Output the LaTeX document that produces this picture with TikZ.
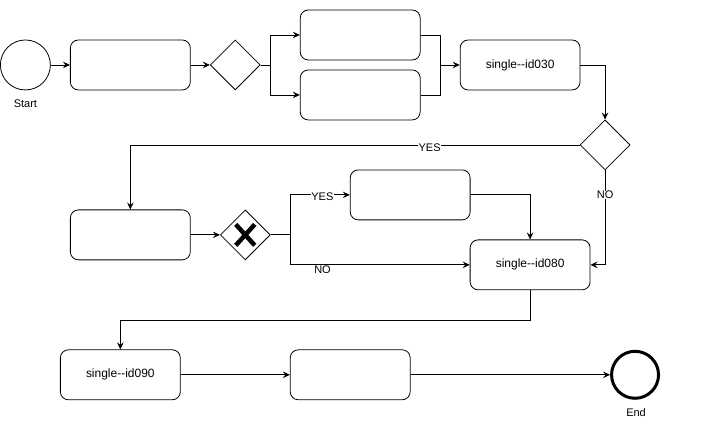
\documentclass[tikz,border=0pt]{standalone}
\usepackage{fontspec}
\setmainfont{Liberation Sans}
\usetikzlibrary{arrows.meta,shapes.geometric,calc}
\begin{document}
\begin{tikzpicture}[x=1pt,y=-1pt,
  task/.style={draw, rounded corners=8pt, minimum width=120pt, minimum height=50pt,
    inner sep=0pt, line width=0.8pt, font=\fontsize{12}{14}\selectfont},
  gate/.style={draw, diamond, minimum width=50pt, minimum height=50pt,
    inner sep=0pt, line width=0.8pt},
  event/.style={draw, circle, minimum size=50pt, inner sep=0pt, line width=0.8pt},
  endevent/.style={draw, circle, minimum size=47pt, inner sep=0pt, line width=3pt},
  flow/.style={-{Stealth[length=7pt,width=6.5pt,inset=2.5pt]}, line width=0.8pt},
  plainline/.style={line width=0.8pt},
  lbl/.style={fill=white, inner sep=0.5pt, font=\fontsize{11}{13}\selectfont},
  evlabel/.style={inner sep=0pt, font=\fontsize{11}{13}\selectfont},
]
% canvas
\path[fill=white] (0,0) rectangle (721,431);

% row 1
\node[event] (start) at (25,65) {};
\node[evlabel] (startlbl) at (25,104) {Start};
\node[task] (t1) at (130,65) {};
\node[gate] (g1) at (235,65) {};
\node[task] (t2) at (360,35) {};
\node[task] (t3) at (360,95) {};
\node[task] (t4) at (520,65) {single{-}{-}id030};
\node[gate] (g2) at (605,145) {};

% row 2
\node[task] (t5) at (130,235) {};
\node[gate] (gx) at (245,235) {};
\draw[line width=4.5pt] ($(gx)+(-9.5,-10.5)$) -- ($(gx)+(9.5,10.5)$);
\draw[line width=4.5pt] ($(gx)+(-9.5,10.5)$) -- ($(gx)+(9.5,-10.5)$);
\node[task] (t6) at (410,195) {};
\node[task] (t80) at (530,265) {single{-}{-}id080};

% row 3
\node[task] (t90) at (120,375) {single{-}{-}id090};
\node[task] (t7) at (350,375) {};
\node[endevent] (end) at (635,375) {};
\node[evlabel] (endlbl) at (636,413) {End};

% branch points
\coordinate (sp1) at (270,65);
\coordinate (mg1) at (440,65);
\coordinate (sp2) at (290,235);

% flows
\draw[flow] (start) -- (t1);
\draw[flow] (t1) -- (g1);
\draw[plainline] (g1.east) -- (sp1);
\draw[flow] (sp1) |- (t2.west);
\draw[flow] (sp1) |- (t3.west);
\draw[plainline] (t2.east) -| (mg1);
\draw[plainline] (t3.east) -| (mg1);
\draw[flow] (mg1) -- (t4.west);
\draw[flow] (t4.east) -| (g2.north);
\draw[flow] (g2.west) -| (t5.north)
  node[lbl, pos=0.167, yshift=-2.5pt] {YES};
\draw[flow] (g2.south) |- (t80.east)
  node[lbl, pos=0.13] {NO};
\draw[flow] (t5) -- (gx);
\draw[plainline] (gx.east) -- (sp2);
\draw[flow] (sp2) |- (t6.west)
  node[lbl, pos=0.77, yshift=-2pt] {YES};
\draw[flow] (sp2) |- (t80.west)
  node[evlabel, pos=0.59, yshift=-5pt] {NO};
\draw[flow] (t6.east) -| (t80.north);
\draw[flow] (t80.south) -- ++(0,30) -| (t90.north);
\draw[flow] (t90) -- (t7);
\draw[flow] (t7) -- (end);
\end{tikzpicture}
\end{document}
